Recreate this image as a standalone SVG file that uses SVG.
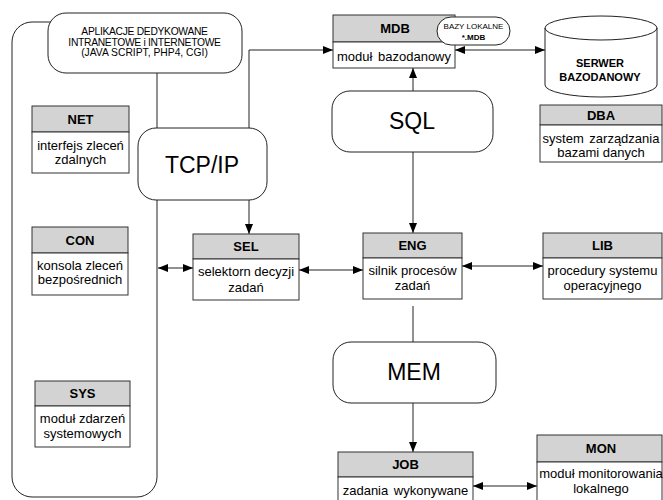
<svg xmlns="http://www.w3.org/2000/svg" width="663" height="500" viewBox="0 0 663 500">
<defs>
<marker id="ah" viewBox="0 0 10 8" refX="10" refY="4" markerWidth="10" markerHeight="8" markerUnits="userSpaceOnUse" orient="auto-start-reverse">
<path d="M0,0 L10,4 L0,8 z" fill="#000"/>
</marker>
<style>
.box{fill:#fff;stroke:#333;stroke-width:1}
.hdr{fill:#d3d3d3;stroke:#333;stroke-width:1}
.rr{fill:#fff;stroke:#222;stroke-width:1}
.ln{fill:none;stroke:#222;stroke-width:1}
.h{font-family:"Liberation Sans",Arial,sans-serif;font-size:13px;font-weight:bold;text-anchor:middle;fill:#000}
.h2{font-family:"Liberation Sans",Arial,sans-serif;font-size:11px;font-weight:bold;text-anchor:middle;fill:#000}
.t{font-family:"Liberation Sans",Arial,sans-serif;font-size:13px;text-anchor:middle;fill:#000}
.big{font-family:"Liberation Sans",Arial,sans-serif;font-size:23px;text-anchor:middle;fill:#000}
.sm{font-family:"Liberation Sans",Arial,sans-serif;font-size:10.3px;text-anchor:middle;fill:#000}
.xs{font-family:"Liberation Sans",Arial,sans-serif;font-size:8px;text-anchor:middle;fill:#000}
</style>
</defs>
<rect x="0" y="0" width="663" height="500" fill="#fff"/>

<g id="container">
<rect class="rr" x="12" y="22" width="145" height="475" rx="20" ry="20"/>
</g>

<g id="connectors">
<polyline class="ln" points="249,128 249,50 333,50" marker-end="url(#ah)"/>
<line class="ln" x1="249" y1="200" x2="249" y2="234" marker-end="url(#ah)"/>
<line class="ln" x1="455" y1="50" x2="545" y2="50" marker-start="url(#ah)" marker-end="url(#ah)"/>
<line class="ln" x1="413" y1="91" x2="413" y2="68" marker-end="url(#ah)"/>
<line class="ln" x1="413" y1="152" x2="413" y2="233" marker-end="url(#ah)"/>
<line class="ln" x1="158" y1="268" x2="193" y2="268" marker-start="url(#ah)" marker-end="url(#ah)"/>
<line class="ln" x1="299" y1="270" x2="363" y2="270" marker-start="url(#ah)" marker-end="url(#ah)"/>
<line class="ln" x1="462" y1="266" x2="543" y2="266" marker-start="url(#ah)" marker-end="url(#ah)"/>
<line class="ln" x1="413" y1="306" x2="413" y2="342"/>
<line class="ln" x1="413" y1="403" x2="413" y2="452" marker-end="url(#ah)"/>
<line class="ln" x1="473" y1="486" x2="537" y2="486" marker-start="url(#ah)" marker-end="url(#ah)"/>
</g>

<g id="APP">
<rect class="rr" x="48" y="13" width="194" height="60" rx="18" ry="18"/>
<text class="sm" x="144.5" y="35" letter-spacing="-0.3">APLIKACJE DEDYKOWANE</text>
<text class="sm" x="144.5" y="46" letter-spacing="-0.3">INTRANETOWE i INTERNETOWE</text>
<text class="sm" x="144.5" y="56">(JAVA SCRIPT, PHP4, CGI)</text>
</g>

<g id="TCPIP">
<rect class="rr" x="138" y="128" width="129" height="72" rx="18" ry="18"/>
<text class="big" x="202" y="173">TCP/IP</text>
</g>

<g id="NET">
<rect class="hdr" x="32" y="106" width="97" height="26"/>
<rect class="box" x="32" y="132" width="97" height="41"/>
<text class="h" x="80.5" y="123.5">NET</text>
<text class="t" x="80.5" y="150">interfejs zleceń</text>
<text class="t" x="80.5" y="164">zdalnych</text>
</g>

<g id="CON">
<rect class="hdr" x="32" y="227" width="96" height="26"/>
<rect class="box" x="32" y="253" width="96" height="42"/>
<text class="h" x="80" y="244.5">CON</text>
<text class="t" x="80" y="270">konsola zleceń</text>
<text class="t" x="80" y="284">bezpośrednich</text>
</g>

<g id="SYS">
<rect class="hdr" x="35" y="381" width="95" height="25"/>
<rect class="box" x="35" y="406" width="95" height="41"/>
<text class="h" x="82.5" y="398">SYS</text>
<text class="t" x="82.5" y="423">moduł zdarzeń</text>
<text class="t" x="82.5" y="438">systemowych</text>
</g>

<g id="MDB">
<rect class="hdr" x="333" y="15" width="122" height="27"/>
<rect class="box" x="333" y="42" width="122" height="26"/>
<text class="h" x="395" y="33">MDB</text>
<text class="t" x="394" y="61" word-spacing="2">moduł bazodanowy</text>
</g>

<g id="BAZY">
<rect class="rr" x="437" y="17" width="73" height="28" rx="14" ry="14"/>
<text class="xs" x="473.5" y="29">BAZY LOKALNE</text>
<text class="xs" x="473.5" y="40" font-weight="bold">*.MDB</text>
</g>

<g id="SERWER">
<path class="rr" d="M545,28 L545,85 A56,12 0 0 0 657,85 L657,28 A56,12 0 0 0 545,28 Z"/>
<path class="ln" d="M545,28 A56,12 0 0 0 657,28"/>
<text class="h2" x="600" y="67">SERWER</text>
<text class="h2" x="600" y="81">BAZODANOWY</text>
</g>

<g id="DBA">
<rect class="hdr" x="540" y="105" width="122" height="20"/>
<rect class="box" x="540" y="125" width="122" height="37"/>
<text class="h" x="601" y="119.5">DBA</text>
<text class="t" x="601" y="143" word-spacing="2">system zarządzania</text>
<text class="t" x="601" y="157">bazami danych</text>
</g>

<g id="SQL">
<rect class="rr" x="332" y="91" width="161" height="61" rx="18" ry="18"/>
<text class="big" x="412" y="129">SQL</text>
</g>

<g id="SEL">
<rect class="hdr" x="193" y="234" width="106" height="25"/>
<rect class="box" x="193" y="259" width="106" height="41"/>
<text class="h" x="246" y="251">SEL</text>
<text class="t" x="246" y="276">selektorn decyzji</text>
<text class="t" x="246" y="292">zadań</text>
</g>

<g id="ENG">
<rect class="hdr" x="363" y="233" width="99" height="25"/>
<rect class="box" x="363" y="258" width="99" height="41"/>
<text class="h" x="412.5" y="250">ENG</text>
<text class="t" x="412.5" y="275">silnik procesów</text>
<text class="t" x="412.5" y="290">zadań</text>
</g>

<g id="LIB">
<rect class="hdr" x="543" y="233" width="119" height="25"/>
<rect class="box" x="543" y="258" width="119" height="41"/>
<text class="h" x="602.5" y="250">LIB</text>
<text class="t" x="602.5" y="275">procedury systemu</text>
<text class="t" x="602.5" y="290">operacyjnego</text>
</g>

<g id="MEM">
<rect class="rr" x="333" y="342" width="163" height="61" rx="18" ry="18"/>
<text class="big" x="414" y="380">MEM</text>
</g>

<g id="JOB">
<rect class="hdr" x="338" y="452" width="135" height="25"/>
<rect class="box" x="338" y="477" width="135" height="30"/>
<text class="h" x="405.5" y="469">JOB</text>
<text class="t" x="405.5" y="495" word-spacing="2">zadania wykonywane</text>
</g>

<g id="MON">
<rect class="hdr" x="537" y="435" width="125" height="27"/>
<rect class="box" x="537" y="462" width="125" height="45"/>
<text class="h" x="601" y="453">MON</text>
<text class="t" x="601" y="478">moduł monitorowania</text>
<text class="t" x="601" y="493">lokalnego</text>
</g>
</svg>
